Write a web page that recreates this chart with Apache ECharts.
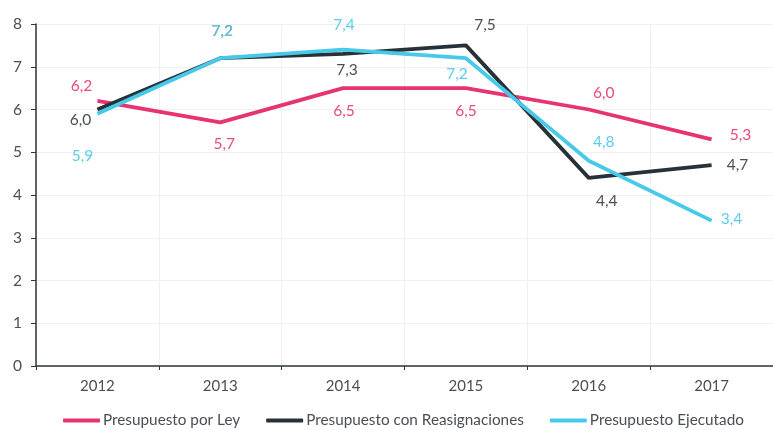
<!DOCTYPE html>
<html>
<head>
    <meta charset="utf-8">
    <title>Presupuesto</title>
    <script src="https://cdn.jsdelivr.net/npm/echarts@6/dist/echarts.min.js"></script>
    <style>
        html, body { margin: 0; padding: 0; background: #fff; }
    </style>
</head>
<body>
<div id="main" style="width: 773px;height:430px;"></div>
<script type="text/javascript">
    // datos
    var years = ['2012', '2013', '2014', '2015', '2016', '2017'];
    var porLey = [6.2, 5.7, 6.5, 6.5, 6.0, 5.3];
    var conReasignaciones = [6.0, 7.2, 7.3, 7.5, 4.4, 4.7];
    var ejecutado = [5.9, 7.2, 7.4, 7.2, 4.8, 3.4];
    var yTicks = [0, 1, 2, 3, 4, 5, 6, 7, 8];

    // desplazamiento de cada etiqueta respecto a su punto (px)
    var offLey = [[-16, -15], [4, 22], [1, 23], [0, 23], [15, -17], [29, -4]];
    var offReas = [[-17, 10], [2, -27], [4, 16], [19, -20], [18, 23], [26, 0]];
    var offEjec = [[-15, 42], [2, -27], [1, -25], [-9, 16], [15, -19], [20, -2]];

    var font = 'Lato';

    function conEtiquetas(vals, offs, color) {
        return vals.map(function (v, i) {
            return {
                value: v,
                label: {
                    show: true,
                    position: 'inside',
                    offset: offs[i],
                    color: color,
                    fontFamily: font,
                    fontSize: 15.5,
                    formatter: function (p) { return p.value.toFixed(1).replace('.', ','); }
                }
            };
        });
    }

    var myChart = echarts.init(document.getElementById('main'));
    var option = {
        animation: false,
        grid: { left: 36, right: -7, top: 24, bottom: 64 },
        legend: {
            left: 58,
            bottom: -3,
            itemWidth: 37,
            itemHeight: 4,
            itemGap: 26,
            icon: 'roundRect',
            textStyle: { fontFamily: font, fontSize: 15.3, color: '#4a4f55', padding: [0, 0, 0, -2] },
            data: ['Presupuesto por Ley', 'Presupuesto con Reasignaciones', 'Presupuesto Ejecutado']
        },
        xAxis: {
            type: 'category',
            data: years,
            boundaryGap: true,
            axisLine: { lineStyle: { color: '#2b363d', width: 1.5 } },
            axisTick: { show: true, length: 4, lineStyle: { color: '#2b363d' } },
            axisLabel: { fontFamily: font, fontSize: 15, color: '#4a4f55', margin: 13 },
            splitLine: { show: true, lineStyle: { color: '#f0f0f0' } }
        },
        yAxis: {
            type: 'value',
            min: yTicks[0],
            max: yTicks[yTicks.length - 1],
            interval: 1,
            axisLine: { show: true, lineStyle: { color: '#2b363d', width: 1.5 } },
            axisTick: { show: true, length: 5, lineStyle: { color: '#2b363d' } },
            axisLabel: { fontFamily: font, fontSize: 15.5, color: '#4a4f55', margin: 14 },
            splitLine: { show: true, lineStyle: { color: '#f0f0f0' } }
        },
        series: [
            {
                name: 'Presupuesto por Ley',
                type: 'line',
                symbol: 'circle',
                symbolSize: 0.1,
                color: '#e5346f',
                lineStyle: { width: 3.8, color: '#e5346f' },
                data: conEtiquetas(porLey, offLey, '#e84b7d')
            },
            {
                name: 'Presupuesto con Reasignaciones',
                type: 'line',
                symbol: 'circle',
                symbolSize: 0.1,
                color: '#263238',
                lineStyle: { width: 3.8, color: '#263238' },
                data: conEtiquetas(conReasignaciones, offReas, '#4a4f55')
            },
            {
                name: 'Presupuesto Ejecutado',
                type: 'line',
                symbol: 'circle',
                symbolSize: 0.1,
                color: '#48c9e9',
                lineStyle: { width: 3.8, color: '#48c9e9' },
                data: conEtiquetas(ejecutado, offEjec, '#5ccdea')
            }
        ]
    };
    myChart.setOption(option);
</script>
</body>
</html>
